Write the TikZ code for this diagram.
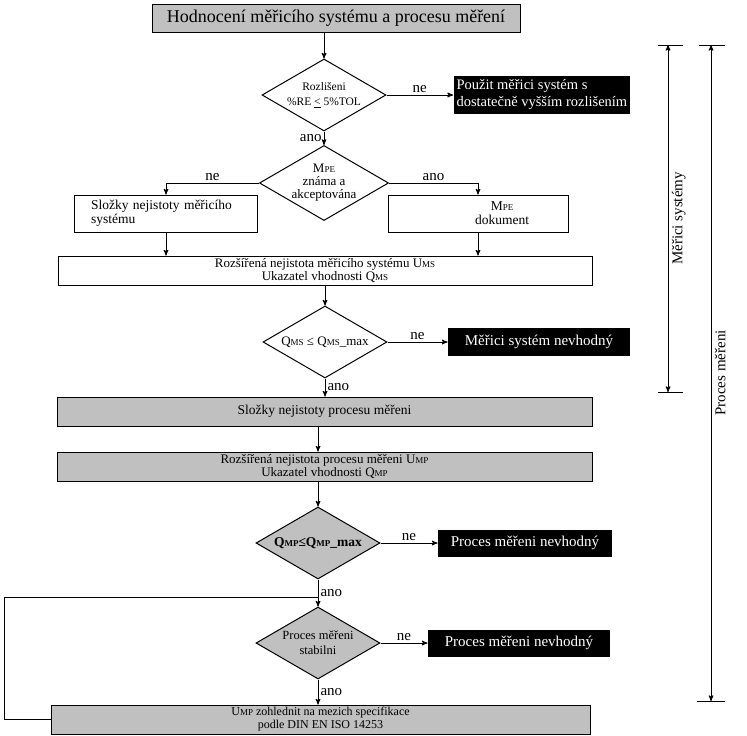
\documentclass[tikz,border=0pt]{standalone}
\usepackage{fontspec}
\setmainfont{Liberation Serif}
\usepackage{tikz}
\usetikzlibrary{arrows,shapes.geometric}

\definecolor{boxgrey}{RGB}{192,192,192}
\newcommand{\lowcap}[1]{{\fontsize{9}{9}\selectfont #1}}

\tikzset{
  greybox/.style={draw,fill=boxgrey,inner sep=0pt,align=center},
  whitebox/.style={draw,fill=white,inner sep=0pt,align=center},
  blackbox/.style={fill=black,text=white,inner sep=0pt,align=center},
  decision/.style={diamond,draw,aspect=1.72,minimum width=124pt,minimum height=72pt,inner sep=0pt,align=center},
  lbl/.style={font=\fontsize{15}{15}\selectfont,inner sep=2pt}
}

\begin{document}
\begin{tikzpicture}[->,>=stealth',x=1pt,y=-1pt,line width=1pt,
            font=\fontsize{13.5}{14}\selectfont]
        \useasboundingbox (0,0) rectangle (747,736);

        \node[greybox, minimum width=368pt, minimum height=28pt,
              font=\fontsize{18}{18}\selectfont] (title) at (336,18.5)
              {Hodnocení měřicího systému a procesu měření};

        \node[decision, font=\fontsize{11.5}{15}\selectfont] (rozl) at (324,95)
              {Rozlišeni\\\%RE \underline{<} 5\%TOL};
        \node[blackbox, inner xsep=3pt, minimum height=38pt,
              align=left, font=\fontsize{14.5}{17}\selectfont, anchor=west] (vyssi) at (453,95)
              {Použit měřici systém s\\dostatečně vyšším rozlišením};

        \node[decision, font=\fontsize{13}{13}\selectfont] (mpe) at (324,183)
              {M\lowcap{PE}\\známa a\\akceptována};
        \node[whitebox, minimum width=183pt, minimum height=37pt, text width=150pt,
              align=left] (slozMS) at (166,213.5)
              {Složky nejistoty měřicího\\systému};
        \node[whitebox, minimum width=180pt, minimum height=37pt] (mpedok) at (478,213.5) {};
        \node[align=center] (mpetxt) at (502,213.5) {M\lowcap{PE}\\dokument};

        \node[whitebox, minimum width=534pt, minimum height=29pt,
              font=\fontsize{13}{13.5}\selectfont] (rozsMS) at (325,270.5)
              {Rozšířená nejistota měřicího systému U\lowcap{MS}\\Ukazatel vhodnosti Q\lowcap{MS}};

        \node[decision, font=\fontsize{13}{14}\selectfont] (qms) at (325,342)
              {Q\lowcap{MS} ≤ Q\lowcap{MS}\_max};
        \node[blackbox, minimum width=182pt, minimum height=28pt,
              font=\fontsize{15}{15}\selectfont] (nevhMS) at (539,342)
              {Měřici systém nevhodný};

        \node[greybox, minimum width=535pt, minimum height=29pt] (slozMP) at (324.5,411.5)
              {Složky nejistoty procesu měřeni};
        \node[greybox, minimum width=535pt, minimum height=29pt,
              font=\fontsize{13}{13.5}\selectfont] (rozsMP) at (324.5,466.5)
              {Rozšířená nejistota procesu měřeni U\lowcap{MP}\\Ukazatel vhodnosti Q\lowcap{MP}};

        \node[decision, fill=boxgrey, font=\bfseries\fontsize{13.5}{14}\selectfont] (qmp) at (318,543)
              {Q\lowcap{MP}≤Q\lowcap{MP}\_max};
        \node[blackbox, minimum width=174pt, minimum height=27pt,
              font=\fontsize{15}{15}\selectfont] (nevhMP) at (525,543)
              {Proces měřeni nevhodný};

        \node[decision, fill=boxgrey, font=\fontsize{12.5}{15}\selectfont] (stab) at (318,643)
              {Proces měřeni\\stabilni};
        \node[blackbox, minimum width=182pt, minimum height=27pt,
              font=\fontsize{15}{15}\selectfont] (nevhST) at (519,643)
              {Proces měřeni nevhodný};

        \node[greybox, minimum width=539pt, minimum height=29pt,
              font=\fontsize{12}{13}\selectfont] (zohl) at (320.5,719.5)
              {U\lowcap{MP} zohlednit na mezich specifikace\\podle DIN EN ISO 14253};

        % flow
        \draw (title.south -| rozl.north) -- (rozl.north);
        \draw (rozl.east) -- node[lbl,above] {ne} (vyssi.west);
        \draw (rozl.south) -- node[lbl,left] {ano} (mpe.north);
        \draw (mpe.west) -| node[lbl,pos=0.25,above] {ne} (slozMS.north);
        \draw (mpe.east) -| node[lbl,pos=0.25,above] {ano} (mpedok.north);
        \draw (slozMS.south) -- (slozMS.south |- rozsMS.north);
        \draw (mpedok.south) -- (mpedok.south |- rozsMS.north);
        \draw (rozsMS.south -| qms.north) -- (qms.north);
        \draw (qms.east) -- node[lbl,above] {ne} (nevhMS.west);
        \draw (qms.south) -- node[lbl,right] {ano} (qms.south |- slozMP.north);
        \draw (slozMP.south -| qmp.north) -- (rozsMP.north -| qmp.north);
        \draw (rozsMP.south -| qmp.north) -- (qmp.north);
        \draw (qmp.east) -- node[lbl,above] {ne} (nevhMP.west);
        \draw (qmp.south) -- node[lbl,right] {ano} (stab.north);
        \draw (stab.east) -- node[lbl,above] {ne} (nevhST.west);
        \draw (stab.south) -- node[lbl,right] {ano} (stab.south |- zohl.north);

        % zpetna vazba
        \coordinate (zpet) at (4,597);
        \draw[-] (zohl.west) -| (zpet) -- (zpet -| qmp.south);

        % rozsah
        \coordinate (msTop) at (668,45);
        \coordinate (msBot) at (668,392);
        \coordinate (mpTop) at (711,45);
        \coordinate (mpBot) at (711,701);
        \draw[-] (msTop) ++(-10,0) -- ++(25,0);
        \draw[-] (msBot) ++(-10,0) -- ++(25,0);
        \draw[-] (mpTop) ++(-12,0) -- ++(26,0);
        \draw[-] (mpBot) ++(-14,0) -- ++(28,0);
        \draw[<->] (msTop) -- node[rotate=90,anchor=north,font=\fontsize{15}{15}\selectfont] {Měřici systémy} (msBot);
        \draw[<->] (mpTop) -- node[rotate=90,anchor=north,font=\fontsize{15}{15}\selectfont] {Proces měřeni} (mpBot);
    \end{tikzpicture}
\end{document}
